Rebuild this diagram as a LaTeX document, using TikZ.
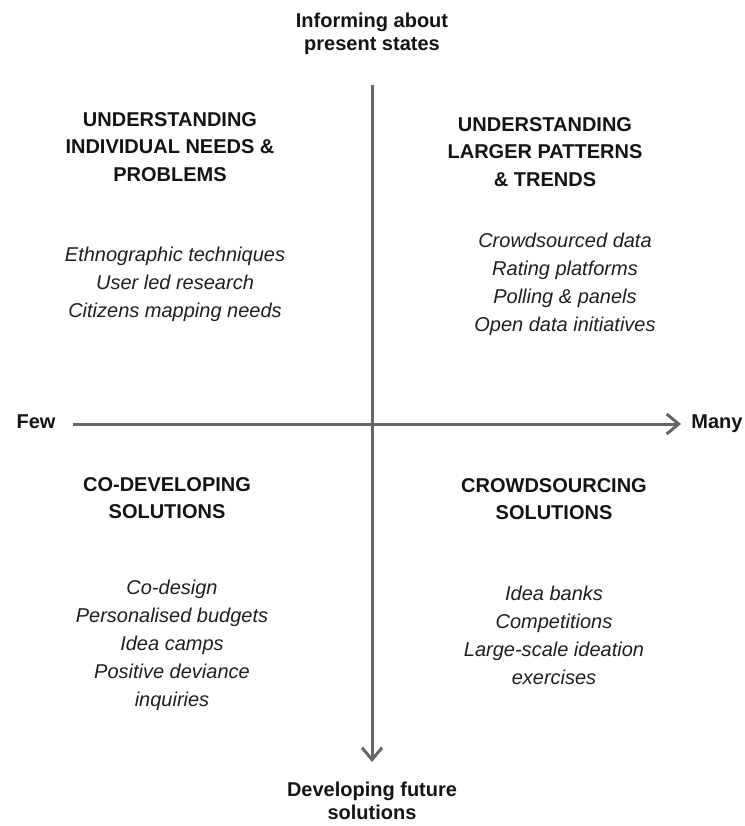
\documentclass[tikz,border=0pt]{standalone}
\usepackage{fontspec}
\setmainfont{Liberation Sans}
\usetikzlibrary{arrows.meta,positioning}

\begin{document}
\begin{tikzpicture}[x=1pt, y=-1pt,
    axislabel/.style={align=center, inner sep=0pt, anchor=north, text=black!92, font=\fontsize{20}{23}\selectfont\bfseries},
    quadtitle/.style={align=center, inner sep=0pt, anchor=north, text=black!92, font=\fontsize{20}{27.5}\selectfont\bfseries},
    quaditems/.style={align=center, inner sep=0pt, anchor=north, text=black!88, font=\fontsize{20}{28}\selectfont\itshape},
    axis/.style={draw=black!60, line width=3pt, -{Straight Barb[length=12pt,width=20pt]}}]
    \useasboundingbox (0,0) rectangle (744,826);

    % axes
    \coordinate (ytop) at (372,85);
    \coordinate (ybot) at (372,762);
    \coordinate (xleft) at (73,424);
    \coordinate (xright) at (681,424);
    \draw[axis] (ytop) -- (ybot);
    \draw[axis] (xleft) -- (xright);

    \node[axislabel] (present) at (372,13) {Informing about\\present states};
    \node[axislabel] (future) at (372,782) {Developing future\\solutions};
    \node[axislabel] (few) at (36,415) {Few};
    \node[axislabel] (many) at (717,415) {Many};

    % quadrants
    \node[quadtitle] (ultitle) at (170,112) {UNDERSTANDING\\INDIVIDUAL NEEDS \&\\PROBLEMS};
    \node[quaditems] (ulitems) at (175,247) {Ethnographic techniques\\User led research\\Citizens mapping needs};

    \node[quadtitle] (urtitle) at (545,117) {UNDERSTANDING\\LARGER PATTERNS\\\& TRENDS};
    \node[quaditems] (uritems) at (565,233) {Crowdsourced data\\Rating platforms\\Polling \& panels\\Open data initiatives};

    \node[quadtitle] (lltitle) at (167,477) {CO-DEVELOPING\\SOLUTIONS};
    \node[quaditems] (llitems) at (172,580) {Co-design\\Personalised budgets\\Idea camps\\Positive deviance\\inquiries};

    \node[quadtitle] (lrtitle) at (554,478) {CROWDSOURCING\\SOLUTIONS};
    \node[quaditems] (lritems) at (554,586) {Idea banks\\Competitions\\Large-scale ideation\\exercises};
\end{tikzpicture}
\end{document}
